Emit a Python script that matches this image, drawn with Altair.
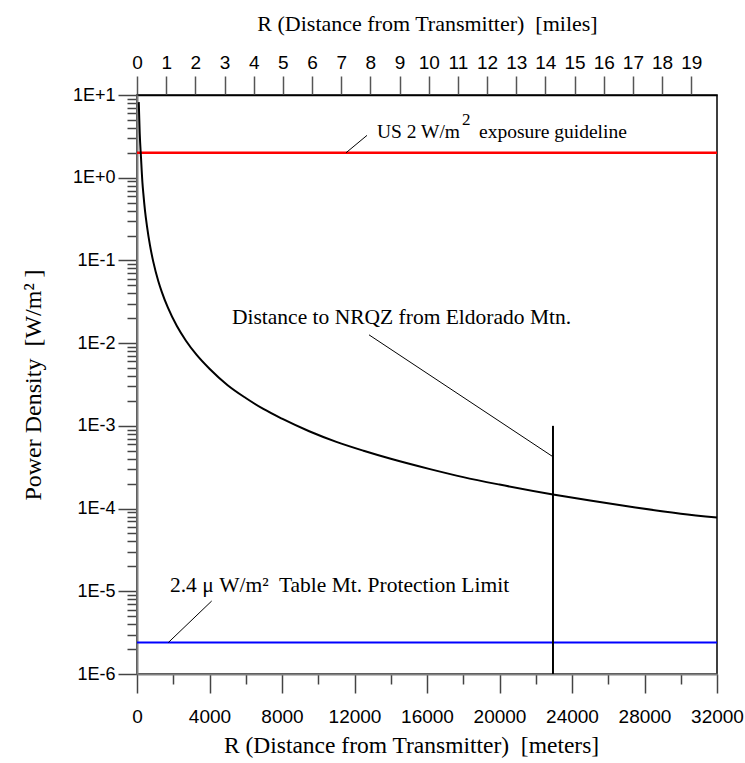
import json
import altair as alt
import pandas as pd

SERIF = "Liberation Serif"
SANS = "Liberation Sans"

# ---- curve: power density vs distance ----
r_m = [97, 150, 221, 300, 348, 441, 550, 717, 900, 1177, 1362, 1700, 2200, 2700,
       3292, 4000, 5000, 6000, 6970, 8000, 9500, 11000, 12500, 14000, 16166,
       18000, 20000, 22950, 25000, 27500, 30000, 32000]
pd_w = [8.2, 3.45, 1.75, 0.87, 0.65, 0.40, 0.26, 0.152, 0.096, 0.056, 0.042,
        0.027, 0.0161, 0.0107, 0.0072, 0.0049, 0.0031, 0.00217, 0.0016,
        0.00122, 0.00086, 0.00064, 0.0005, 0.0004, 0.0003, 0.00024, 0.000195,
        0.000148, 0.000125, 0.000103, 0.0000867, 0.0000778]

# ---- reference levels ----
level_vals = [2.0, 2.4e-6]
level_colors = ["#ff0000", "#0000ff"]
level_widths = [2.5, 2.0]

# ---- NRQZ distance marker ----
nrqz_r = 22950
nrqz_p = [1e-6, 1e-3]

# ---- axes ----
x_max_m = 32000
x_max_mi = 19.884          # 32000 m expressed in miles
bottom_ticks = list(range(0, 32001, 2000))
bottom_major = 4000
top_ticks = [i * 0.5 for i in range(40)]
decades = [10, 1, 0.1, 0.01, 0.001, 1e-4, 1e-5, 1e-6]
decade_labels = ["1E+1", "1E+0", "1E-1", "1E-2", "1E-3", "1E-4", "1E-5", "1E-6"]
left_ticks = [10] + [d * m for d in decades[1:] for m in range(1, 10)]

# ---- annotations (data coordinates) ----
leader_r = [11530, 12800, 1727]
leader_p = [2.0, 0.0126, 2.4e-6]
leader_r2 = [12690, 22950, 4121]
leader_p2 = [3.25, 4.23e-4, 7.63e-6]

us_text = ["US 2 W/m", "2", "exposure guideline"]
us_r, us_p, us_sup_p = 13240, 3.0, 4.3
nrqz_text, nrqz_tr, nrqz_tp = "Distance to NRQZ from Eldorado Mtn.", 5240, 0.01706
table_text, table_tr, table_tp = "2.4 \u03bc W/m\u00b2\u00a0 Table Mt. Protection Limit", 1820, 9.9e-6

W, H = 580, 579

dec_js = json.dumps(decades)
lab_js = json.dumps(decade_labels)

x_enc = alt.X(
    "r:Q",
    scale=alt.Scale(domain=[0, x_max_m], nice=False, zero=False),
    axis=alt.Axis(
        orient="bottom", values=bottom_ticks, format="d",
        labelExpr=f"datum.value % {bottom_major} === 0 ? datum.label : ''",
        tickSize={"condition": {"test": f"datum.value % {bottom_major} === 0", "value": 19}, "value": 10},
        labelPadding=14, labelFlush=False, labelOverlap=False, grid=False,
        domainColor="#808080", domainWidth=2, tickColor="#444444", tickWidth=1.5,
        labelFont=SANS, labelFontSize=19, labelColor="black",
        title="R (Distance from Transmitter)\u00a0 [meters]",
        titleFont=SERIF, titleFontSize=23.5, titleFontWeight="normal", titleColor="black",
        titleX=274, titleY=71, titleBaseline="middle",
    ),
)
y_enc = alt.Y(
    "p:Q",
    scale=alt.Scale(type="log", domain=[1e-6, 10], nice=False),
    axis=alt.Axis(
        orient="left", values=left_ticks,
        labelExpr=f"indexof({dec_js}, datum.value) >= 0 ? {lab_js}[indexof({dec_js}, datum.value)] : ''",
        tickSize={"condition": {"test": f"indexof({dec_js}, datum.value) >= 0", "value": 19}, "value": 10},
        labelPadding=3, labelOverlap=False, labelFlush=False, grid=False,
        domainColor="#808080", domainWidth=2, tickColor="#444444", tickWidth=1.5,
        labelFont=SANS, labelFontSize=18, labelColor="black",
        title="Power Density\u00a0 [W/m\u00b2 ]",
        titleFont=SERIF, titleFontSize=24, titleFontWeight="normal", titleColor="black",
        titleX=-104, titleY=H / 2, titleBaseline="middle", titleAngle=270,
    ),
)

curve = alt.Chart(pd.DataFrame({"r": r_m, "p": pd_w})).mark_line(
    color="black", strokeWidth=2, interpolate="monotone"
).encode(x=x_enc, y=y_enc)

levels_df = pd.DataFrame({"r": [0] * 2, "r2": [x_max_m] * 2, "p": level_vals,
                          "c": level_colors, "w": level_widths})
levels = alt.Chart(levels_df).mark_rule().encode(
    x=x_enc, x2="r2:Q", y=y_enc,
    color=alt.Color("c:N", scale=None),
    strokeWidth=alt.StrokeWidth("w:Q", scale=None),
)

nrqz = alt.Chart(pd.DataFrame({"r": [nrqz_r], "p": [nrqz_p[0]], "p2": [nrqz_p[1]]})).mark_rule(
    color="black", strokeWidth=2
).encode(x=x_enc, y=y_enc, y2="p2:Q")

leaders = alt.Chart(pd.DataFrame({"r": leader_r, "p": leader_p, "r2": leader_r2, "p2": leader_p2})).mark_rule(
    color="black", strokeWidth=1
).encode(x=x_enc, y=y_enc, x2="r2:Q", y2="p2:Q")


def text_layer(t, r, p, size, dx=0):
    return alt.Chart(pd.DataFrame({"t": [t], "r": [r], "p": [p]})).mark_text(
        align="left", baseline="alphabetic", font=SERIF, fontSize=size, dx=dx, color="black"
    ).encode(x=x_enc, y=y_enc, text="t:N")


texts = [
    text_layer(us_text[0], us_r, us_p, 19.5),
    text_layer(us_text[1], us_r, us_sup_p, 17, dx=85),
    text_layer(us_text[2], us_r, us_p, 19.5, dx=102),
    text_layer(nrqz_text, nrqz_tr, nrqz_tp, 21.5),
    text_layer(table_text, table_tr, table_tp, 21.5),
]

meters = alt.layer(levels, curve, nrqz, leaders, *texts)

top = alt.Chart(pd.DataFrame({"mi": top_ticks})).mark_point(opacity=0).encode(
    x=alt.X(
        "mi:Q",
        scale=alt.Scale(domain=[0, x_max_mi], nice=False, zero=False),
        axis=alt.Axis(
            orient="top", values=top_ticks, format="d",
            labelExpr="datum.value % 1 === 0 ? datum.label : ''",
            tickSize={"condition": {"test": "datum.value % 1 === 0", "value": 19}, "value": 10},
            labelPadding=4, labelFlush=False, labelOverlap=False, grid=False,
            domainColor="black", domainWidth=1.5, tickColor="#555555", tickWidth=1.5,
            labelFont=SANS, labelFontSize=19, labelColor="black",
            title="R (Distance from Transmitter)\u00a0 [miles]",
            titleFont=SERIF, titleFontSize=22, titleFontWeight="normal", titleColor="black",
            titleX=W / 2, titleY=-72, titleBaseline="middle",
        ),
    )
)

chart = alt.layer(meters, top).resolve_scale(x="independent").properties(
    width=W, height=H,
    autosize=alt.AutoSizeParams(type="none"),
    padding={"left": 137, "top": 95, "right": 28, "bottom": 89},
    background="white",
).configure_view(stroke="black", strokeWidth=1.5)

chart.save("out.html", embed_options={"renderer": "svg", "actions": False})
